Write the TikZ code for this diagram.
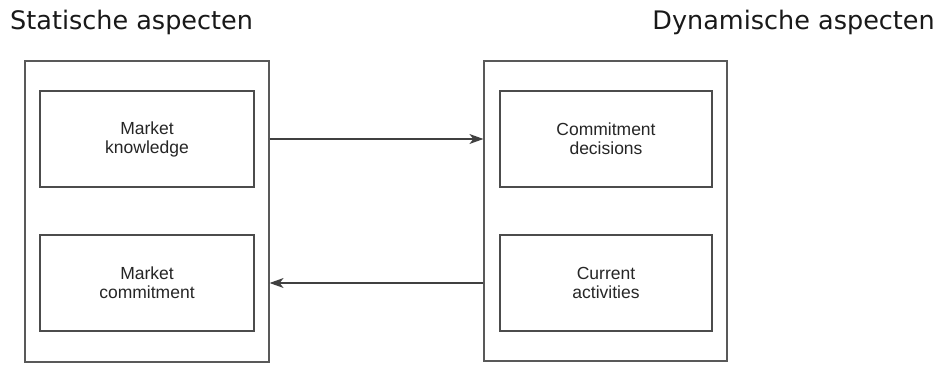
\documentclass[tikz,border=0pt]{standalone}
\usepackage{fontspec}
\setmainfont{Liberation Sans}
\newfontfamily\titlefont{DejaVu Sans}
\usetikzlibrary{arrows.meta}

\begin{document}
\begin{tikzpicture}[x=1pt,y=-1pt,
    outerbox/.style={draw=black!65,line width=1.2pt,inner sep=0pt},
    innerbox/.style={draw=black!70,line width=1.2pt,inner sep=0pt,minimum height=96pt,
        align=center,font=\fontsize{17.5}{19}\selectfont,text=black!85},
    flow/.style={draw=black!75,line width=1.2pt,-{Stealth[length=14pt,width=10pt,inset=4pt]}},
    heading/.style={inner sep=0pt,font=\titlefont\fontsize{25.5}{30}\selectfont,text=black!90}]
            \useasboundingbox[fill=white] (0,0) rectangle (941,371);

            \node (stattitle) at (10,30) [heading,anchor=base west] {Statische aspecten};
            \node (dyntitle) at (935,30) [heading,anchor=base east] {Dynamische aspecten};

            \node (stat) at (147,211.5) [outerbox,minimum width=244pt,minimum height=301pt] {};
            \node (dyn) at (605.5,211) [outerbox,minimum width=243pt,minimum height=300pt] {};

            \node (know) at (147,139) [innerbox,minimum width=214pt] {Market\\knowledge};
            \node (comm) at (147,283) [innerbox,minimum width=214pt] {Market\\commitment};
            \node (decis) at (606,139) [innerbox,minimum width=212pt] {Commitment\\decisions};
            \node (act) at (606,283) [innerbox,minimum width=212pt] {Current\\activities};

            \draw[flow] (stat.east |- know) -- (dyn.west |- decis);
            \draw[flow] (dyn.west |- act) -- (stat.east |- comm);

        \end{tikzpicture}
\end{document}
